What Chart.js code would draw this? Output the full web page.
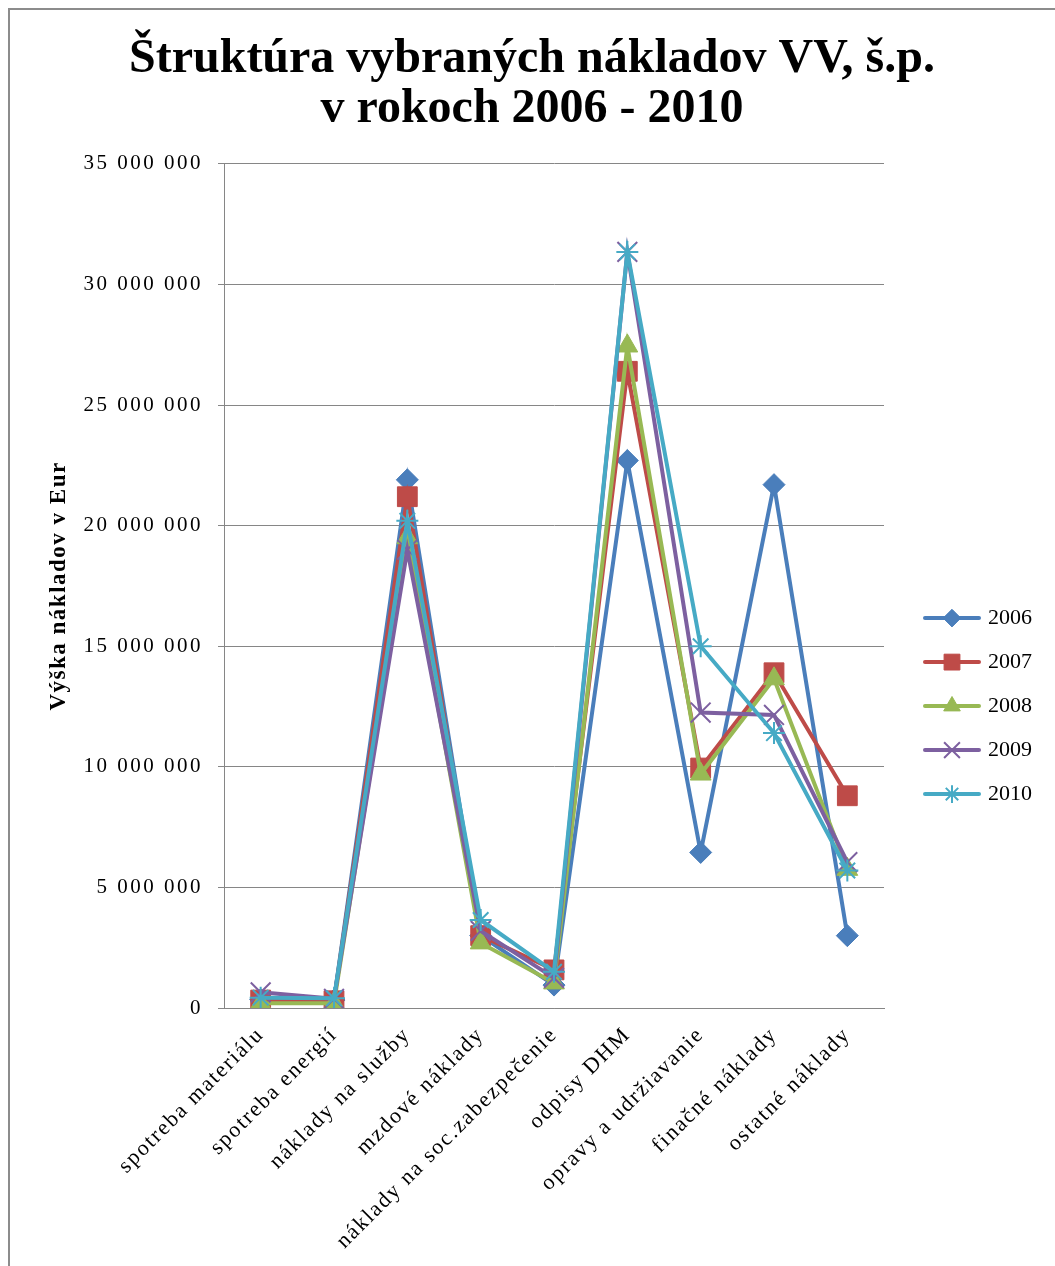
<!DOCTYPE html>
<html>
<head>
<meta charset="utf-8">
<title>Štruktúra vybraných nákladov VV, š.p.</title>
<script src="https://cdn.jsdelivr.net/npm/chart.js@4.4.0/dist/chart.umd.min.js"></script>
<style>
	html, body { margin: 0; padding: 0; background: #fff; }
	#wrap { width: 1055px; height: 1266px; position: relative; }
</style>
</head>
<body>
<div id="wrap"><canvas id="naklady" width="1055" height="1266"></canvas></div>
<script>
	/* data */
	var categories = ['spotreba materiálu', 'spotreba energií', 'náklady na služby', 'mzdové náklady',
		'náklady na soc.zabezpečenie', 'odpisy DHM', 'opravy a udržiavanie', 'finačné náklady', 'ostatné náklady'];
	var years = ['2006', '2007', '2008', '2009', '2010'];
	var v2006 = [350000, 330000, 21900000, 3000000, 950000, 22700000, 6450000, 21700000, 3000000];
	var v2007 = [330000, 300000, 21200000, 3000000, 1580000, 26400000, 9950000, 13900000, 8800000];
	var v2008 = [200000, 200000, 19500000, 2700000, 1040000, 27450000, 9700000, 13650000, 5750000];
	var v2009 = [650000, 380000, 19000000, 3200000, 1250000, 31350000, 12250000, 12150000, 6050000];
	var v2010 = [430000, 400000, 20200000, 3650000, 1500000, 31350000, 15000000, 11400000, 5700000];
	var yTicks = [0, 5000000, 10000000, 15000000, 20000000, 25000000, 30000000, 35000000];

	var colors = ['#4a7ebb', '#be4b48', '#98b954', '#7d60a0', '#46aac5'];
	var markers = ['rectRot', 'rect', 'triangle', 'crossRot', 'star'];
	var markerSize = [11, 14, 12, 14, 11];
	var markerBorder = [1, 1, 1, 2, 2];
	var series = [v2006, v2007, v2008, v2009, v2010];

	var serif = "'Liberation Serif', 'Times New Roman', serif";

	function spaced(v) {
		return String(v).replace(/\B(?=(\d{3})+(?!\d))/g, ' ');
	}

	/* later years are painted over earlier ones, as in the original */
	var datasets = years.map(function (y, i) {
		return {
			label: y,
			data: series[i],
			order: years.length - i,
			borderColor: colors[i],
			backgroundColor: colors[i],
			borderWidth: 4,
			pointStyle: markers[i],
			pointRadius: markerSize[i],
			pointHoverRadius: markerSize[i],
			pointBorderWidth: markerBorder[i],
			pointBackgroundColor: colors[i],
			pointBorderColor: colors[i],
			tension: 0
		};
	});

	/* frame round the chart */
	var framePlugin = {
		id: 'frame',
		beforeDraw: function (chart) {
			var c = chart.ctx;
			c.save();
			c.fillStyle = '#fff';
			c.fillRect(0, 0, chart.width, chart.height);
			c.strokeStyle = '#8c8c8c';
			c.lineWidth = 2;
			c.beginPath();
			c.moveTo(9, chart.height);
			c.lineTo(9, 9);
			c.lineTo(chart.width, 9);
			c.stroke();
			c.restore();
		}
	};

	/* wider letter spacing on the axis texts (the original font is stretched) */
	function withSpacing(obj, name, sp) {
		var orig = obj[name];
		obj[name] = function () {
			var c = this.ctx;
			var old = c.letterSpacing;
			c.letterSpacing = sp;
			orig.apply(this, arguments);
			c.letterSpacing = old;
		};
	}
	var spacingPlugin = {
		id: 'spacing',
		afterLayout: function (chart) {
			var x = chart.scales.x, y = chart.scales.y;
			if (!x._spaced) { withSpacing(x, 'drawLabels', '1.8px'); x._spaced = true; }
			if (!y._spaced) {
				withSpacing(y, 'drawLabels', '2.5px');
				withSpacing(y, 'drawTitle', '1.5px');
				y._spaced = true;
			}
		}
	};

	/* legend: line with marker, like the office chart */
	var legendLine = {
		id: 'legendLine',
		afterDraw: function (chart) {
			var lg = chart.legend;
			if (!lg || !lg.legendHitBoxes) return;
			var c = chart.ctx;
			lg.legendHitBoxes.forEach(function (hb, n) {
				var i = lg.legendItems[n].datasetIndex;
				var x0 = hb.left + 19, x1 = hb.left + 73, y = hb.top + hb.height / 2;
				c.save();
				c.strokeStyle = colors[i];
				c.lineWidth = 4;
				c.lineCap = 'round';
				c.beginPath();
				c.moveTo(x0, y);
				c.lineTo(x1, y);
				c.stroke();
				c.fillStyle = colors[i];
				c.strokeStyle = colors[i];
				c.lineWidth = markerBorder[i];
				c.lineCap = 'butt';
				Chart.helpers.drawPoint(c, {
					pointStyle: markers[i],
					radius: markerSize[i] * 0.8,
					rotation: 0,
					borderWidth: markerBorder[i]
				}, (x0 + x1) / 2, y);
				c.restore();
			});
		}
	};

	var ctx = document.getElementById('naklady').getContext('2d');
	var myChart = new Chart(ctx, {
		type: 'line',
		data: {
			labels: categories,
			datasets: datasets
		},
		plugins: [framePlugin, spacingPlugin, legendLine],
		options: {
			responsive: false,
			animation: false,
			devicePixelRatio: 1,
			layout: {
				padding: { left: 22, right: 13, top: 0, bottom: 0 }
			},
			scales: {
				x: {
					offset: true,
					grid: { display: false, offset: true },
					border: { display: true, color: '#868686', width: 1 },
					ticks: {
						autoSkip: false,
						minRotation: 45,
						maxRotation: 45,
						color: '#000',
						padding: 6,
						font: { family: serif, size: 22 }
					},
					afterFit: function (scale) { scale.height = 258; }
				},
				y: {
					min: 0,
					max: 35000000,
					afterBuildTicks: function (scale) {
						scale.ticks = yTicks.map(function (v) { return { value: v }; });
					},
					grid: { color: '#868686', lineWidth: 1, tickLength: 6, drawTicks: true },
					border: { display: true, color: '#868686', width: 1 },
					ticks: {
						color: '#000',
						padding: 15,
						font: { family: serif, size: 21 },
						callback: function (v) { return spaced(v); }
					},
					title: {
						display: true,
						text: 'Výška nákladov v Eur',
						color: '#000',
						padding: { top: 23, bottom: 0 },
						font: { family: serif, size: 23, weight: 'bold' }
					},
					afterFit: function (scale) { scale.width = 202; }
				}
			},
			plugins: {
				title: {
					display: true,
					text: ['Štruktúra vybraných nákladov VV, š.p.', 'v rokoch 2006 - 2010'],
					color: '#000',
					padding: { top: 35, bottom: 30 },
					font: { family: serif, size: 48, weight: 'bold', lineHeight: 1.03 }
				},
				legend: {
					display: true,
					position: 'right',
					reverse: true,
					title: {
						display: true,
						text: ' ',
						font: { size: 1 },
						padding: { top: 145, bottom: 0 }
					},
					labels: {
						color: '#000',
						boxWidth: 71,
						boxHeight: 22,
						padding: 22,
						font: { family: serif, size: 22 },
						generateLabels: function (chart) {
							var items = Chart.defaults.plugins.legend.labels.generateLabels(chart);
							items.forEach(function (it) {
								it.fillStyle = 'rgba(0,0,0,0)';
								it.strokeStyle = 'rgba(0,0,0,0)';
								it.lineWidth = 0;
							});
							return items;
						}
					}
				},
				tooltip: { enabled: false }
			}
		}
	});
</script>
</body>
</html>
